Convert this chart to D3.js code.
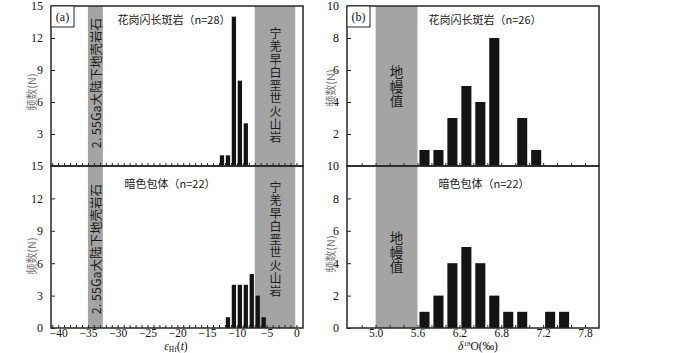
<!DOCTYPE html>
<html>
<head>
<meta charset="utf-8">
<script src="https://cdn.jsdelivr.net/npm/d3@7"></script>
<style>
  body { margin: 0; background: #fff; }
  svg { display: block; }
</style>
</head>
<body>
<svg id="chart" width="700" height="353"></svg>
<script>
// ---- data ----
// (a) eHf(t) histograms, bin centres and counts
const hfGraniteBins = [-12.5, -11.5, -10.5, -9.5, -8.5];
const hfGraniteCounts = [1, 1, 14, 8, 4];
const hfEnclaveBins = [-11.5, -10.5, -9.5, -8.5, -7.5, -6.5, -5.5];
const hfEnclaveCounts = [1, 4, 4, 4, 5, 3, 1];
// (b) d18O histograms
const oGraniteBins = [5.7, 5.9, 6.1, 6.3, 6.5, 6.7, 7.1, 7.3];
const oGraniteCounts = [1, 1, 3, 5, 4, 8, 3, 1];
const oEnclaveBins = [5.7, 5.9, 6.1, 6.3, 6.5, 6.7, 6.9, 7.1, 7.5, 7.7];
const oEnclaveCounts = [1, 2, 4, 5, 4, 2, 1, 1, 1, 1];

// reference fields (shaded bands)
const hfCrustBand = [-35, -32.5];
const hfVolcanicBand = [-7, -0.2];
const oMantleBand = [5.0, 5.6];

// tick labels
const hfTicks = [-40, -35, -30, -25, -20, -15, -10, -5, 0];
const hfYTicks = [0, 3, 6, 9, 12, 15];
const oTicks = [5.0, 5.6, 6.2, 6.8, 7.4, 8.0];
const oTickLabels = ["5.0", "5.6", "6.2", "6.8", "7.2", "7.8"]; // as printed
const oYTicks = [0, 2, 4, 6, 8, 10];

const titleGraniteA = "花岗闪长斑岩（n=28）";
const titleEnclaveA = "暗色包体（n=22）";
const titleGraniteB = "花岗闪长斑岩（n=26）";
const titleEnclaveB = "暗色包体（n=22）";
const crustLabel = "2. 55Ga大陆下地壳岩石";
const volcanicLabel = "宁羌早白垩世火山岩";
const mantleLabel = "地幔值";
const yLabel = "频数(N)";

// ---- layout ----
const svg = d3.select("#chart");
const serif = "'Liberation Serif', 'DejaVu Serif', serif";
const cjk = "'Noto Sans CJK SC', sans-serif";

const left = {x0: 51, x1: 303};
const right = {x0: 347, x1: 599};
const topRow = {y0: 6, y1: 166};
const botRow = {y0: 166, y1: 328};

const xHf = d3.scaleLinear().domain([-41.2, 1.1]).range([left.x0, left.x1]);
const xO = d3.scaleLinear().domain([4.59, 8.2]).range([right.x0, right.x1]);

const yHfTop = d3.scaleLinear().domain([0, 15]).range([topRow.y1, topRow.y0]);
const yHfBot = d3.scaleLinear().domain([0, 15]).range([botRow.y1, botRow.y0]);
const yOTop = d3.scaleLinear().domain([0, 10]).range([topRow.y1, topRow.y0]);
const yOBot = d3.scaleLinear().domain([0, 10]).range([botRow.y1, botRow.y0]);

const bandColor = "#a4a4a4";
const barColor = "#141414";
const frameColor = "#262626";

function drawBand(x, band, row) {
    svg.append("rect")
        .attr("x", x(band[0]))
        .attr("y", row.y0)
        .attr("width", x(band[1]) - x(band[0]))
        .attr("height", row.y1 - row.y0)
        .attr("fill", bandColor);
}

function drawBars(x, y, bins, counts, halfWidth) {
    const data = bins.map((b, i) => ({bin: b, n: counts[i]}));
    svg.append("g")
        .selectAll("rect")
        .data(data)
        .join("rect")
        .attr("x", d => x(d.bin - halfWidth))
        .attr("width", d => x(d.bin + halfWidth) - x(d.bin - halfWidth))
        .attr("y", d => y(d.n))
        .attr("height", d => y(0) - y(d.n))
        .attr("fill", barColor);
}

function drawFrame(panel, row) {
    svg.append("rect")
        .attr("x", panel.x0)
        .attr("y", row.y0)
        .attr("width", panel.x1 - panel.x0)
        .attr("height", row.y1 - row.y0)
        .attr("fill", "none")
        .attr("stroke", frameColor)
        .attr("stroke-width", 1.5);
}

function styleAxis(g, size) {
    g.select(".domain").remove();
    g.attr("font-family", null).attr("font-size", null);
    g.selectAll(".tick line").attr("stroke", frameColor).attr("stroke-width", 1);
    g.selectAll(".tick text")
        .style("font-family", serif)
        .style("font-size", (size || 12) + "px")
        .attr("fill", "#111");
}

function drawYAxis(panel, y, ticks) {
    const g = svg.append("g")
        .attr("transform", `translate(${panel.x0},0)`)
        .call(d3.axisLeft(y).tickValues(ticks).tickSizeInner(-4).tickSizeOuter(0).tickPadding(8));
    styleAxis(g);
}

function drawMinorX(x, row, values) {
    const g = svg.append("g")
        .attr("transform", `translate(0,${row.y1})`)
        .call(d3.axisBottom(x).tickValues(values).tickSizeInner(-3).tickSizeOuter(0).tickFormat(""));
    styleAxis(g);
}

function drawXLabels(x, row, values, fmt) {
    const g = svg.append("g")
        .attr("transform", `translate(0,${row.y1})`)
        .call(d3.axisBottom(x).tickValues(values).tickSize(0).tickPadding(1).tickFormat(fmt));
    styleAxis(g, 11.5);
}

function drawTitle(text, cx, cy) {
    svg.append("text")
        .attr("x", cx).attr("y", cy)
        .attr("text-anchor", "middle")
        .attr("dominant-baseline", "central")
        .style("font-family", cjk)
        .style("font-size", "11px")
        .attr("fill", "#1a1a1a")
        .text(text);
}

function drawYLabel(cx, cy) {
    svg.append("text")
        .attr("transform", `translate(${cx},${cy}) rotate(-90)`)
        .attr("text-anchor", "middle")
        .attr("dominant-baseline", "central")
        .style("font-family", cjk)
        .style("font-size", "11px")
        .attr("fill", "#7a7a7a")
        .text(yLabel);
}

function drawRotatedLabel(text, cx, cy) {
    svg.append("text")
        .attr("transform", `translate(${cx},${cy}) rotate(-90)`)
        .attr("text-anchor", "middle")
        .attr("dominant-baseline", "central")
        .style("font-family", cjk)
        .style("font-size", "12.5px")
        .attr("fill", "#1a1a1a")
        .text(text);
}

// upright CJK column, one text element in vertical writing mode
function drawVertical(text, cx, cy, size, gap) {
    svg.append("text")
        .attr("x", cx).attr("y", cy)
        .attr("text-anchor", "middle")
        .style("writing-mode", "vertical-rl")
        .style("text-orientation", "upright")
        .style("letter-spacing", gap + "px")
        .style("font-family", cjk)
        .style("font-size", size + "px")
        .attr("fill", "#1a1a1a")
        .text(text);
}

function drawTag(label, panel, row) {
    svg.append("rect")
        .attr("x", panel.x0).attr("y", row.y0)
        .attr("width", 23).attr("height", 21)
        .attr("fill", "#fff")
        .attr("stroke", frameColor).attr("stroke-width", 1);
    svg.append("text")
        .attr("x", panel.x0 + 11.5).attr("y", row.y0 + 10.5)
        .attr("text-anchor", "middle")
        .attr("dominant-baseline", "central")
        .style("font-family", serif)
        .style("font-size", "12px")
        .attr("fill", "#111")
        .text(label);
}

// ---- (a) eHf(t) ----
[topRow, botRow].forEach(row => {
    drawBand(xHf, hfCrustBand, row);
    drawBand(xHf, hfVolcanicBand, row);
});
drawBars(xHf, yHfTop, hfGraniteBins, hfGraniteCounts, 0.36);
drawBars(xHf, yHfBot, hfEnclaveBins, hfEnclaveCounts, 0.36);

const hfMinor = d3.range(-41, 1, 1);
drawMinorX(xHf, topRow, hfMinor);
drawMinorX(xHf, botRow, hfMinor);
drawXLabels(xHf, botRow, hfTicks, d3.format("d"));
drawYAxis(left, yHfTop, hfYTicks.slice(1));
drawYAxis(left, yHfBot, hfYTicks);
drawFrame(left, topRow);
drawFrame(left, botRow);

// ---- (b) d18O ----
[topRow, botRow].forEach(row => drawBand(xO, oMantleBand, row));
drawBars(xO, yOTop, oGraniteBins, oGraniteCounts, 0.072);
drawBars(xO, yOBot, oEnclaveBins, oEnclaveCounts, 0.072);

const oMinor = d3.range(4.8, 8.15, 0.2);
drawMinorX(xO, topRow, oMinor);
drawMinorX(xO, botRow, oMinor);
drawXLabels(xO, botRow, oTicks, (d, i) => oTickLabels[i]);
drawYAxis(right, yOTop, oYTicks.slice(1));
drawYAxis(right, yOBot, oYTicks);
drawFrame(right, topRow);
drawFrame(right, botRow);

// ---- labels ----
drawTag("(a)", left, topRow);
drawTag("(b)", right, topRow);

drawTitle(titleGraniteA, 174, 19);
drawTitle(titleEnclaveA, 170, 183);
drawTitle(titleGraniteB, 485, 19);
drawTitle(titleEnclaveB, 484, 183);

drawRotatedLabel(crustLabel, (xHf(hfCrustBand[0]) + xHf(hfCrustBand[1])) / 2, 83);
drawRotatedLabel(crustLabel, (xHf(hfCrustBand[0]) + xHf(hfCrustBand[1])) / 2, 249);
drawVertical(volcanicLabel, 275.5, 86, 12, 1);
drawVertical(volcanicLabel, 275.5, 240, 12, 1);

const mantleX = (xO(oMantleBand[0]) + xO(oMantleBand[1])) / 2;
drawVertical(mantleLabel, mantleX, 87, 13.5, 1);
drawVertical(mantleLabel, mantleX, 253, 13.5, 1);

drawYLabel(31, 92);
drawYLabel(31, 256);
drawYLabel(330, 88);
drawYLabel(330, 254);

// axis titles
const hfTitle = svg.append("text")
    .attr("x", 176).attr("y", 350)
    .attr("text-anchor", "middle")
    .style("font-family", serif)
    .style("font-size", "11.5px")
    .attr("fill", "#111");
hfTitle.append("tspan").attr("font-style", "italic").text("ε");
hfTitle.append("tspan").style("font-size", "7.5px").attr("dy", 2).text("Hf");
hfTitle.append("tspan").attr("dy", -2).text("(");
hfTitle.append("tspan").attr("font-style", "italic").text("t");
hfTitle.append("tspan").text(")");

const oTitle = svg.append("text")
    .attr("x", 478).attr("y", 350)
    .attr("text-anchor", "middle")
    .style("font-family", serif)
    .style("font-size", "11.5px")
    .attr("fill", "#111");
oTitle.append("tspan").attr("font-style", "italic").text("δ");
oTitle.append("tspan").style("font-size", "7px").attr("dy", -4).text("18");
oTitle.append("tspan").attr("dy", 4).text("O(‰)");
</script>
</body>
</html>
